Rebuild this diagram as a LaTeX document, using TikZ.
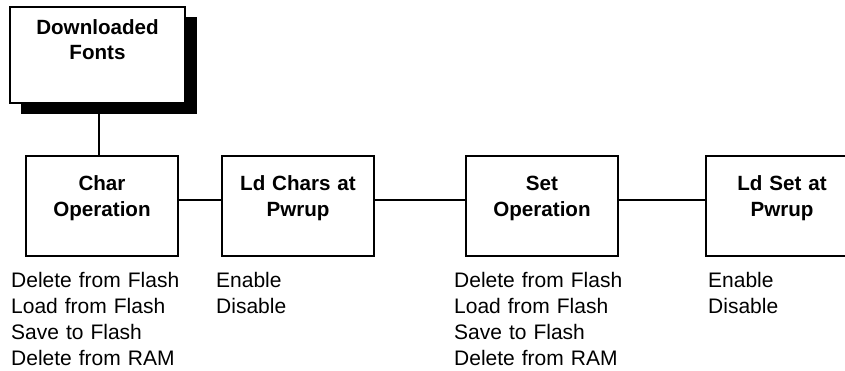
\documentclass[tikz,border=0pt]{standalone}
\usepackage{fontspec}
\setmainfont{Liberation Sans}
\begin{document}
\begin{tikzpicture}[x=1pt,y=-1pt,
  menubox/.style={draw=black,line width=1.8pt,fill=white,minimum width=152pt,minimum height=100pt,inner sep=0pt,outer sep=0pt},
  title/.style={text width=152pt,align=center,inner sep=0pt,anchor=base,font=\fontsize{20.6}{26}\selectfont\bfseries},
  choices/.style={text width=200pt,align=left,inner sep=0pt,anchor=base west,font=\fontsize{21}{26}\selectfont},
  wire/.style={draw=black,line width=1.8pt}]
\useasboundingbox (0,0) rectangle (845,371);
\clip (0,0) rectangle (845,371);
% top box with shadow
\node[fill=black,minimum width=176pt,minimum height=97pt,inner sep=0pt,outer sep=0pt] (shadow) at (109,65.5) {};
\node[draw=black,line width=1.2pt,fill=white,minimum width=175pt,minimum height=96pt,inner sep=0pt,outer sep=0pt] (top) at (97.5,55) {};
\node[title,font=\fontsize{20.6}{25}\selectfont\bfseries,text width=175pt] (toptxt) at (97.5,35) {Downloaded\\Fonts};
% boxes
\node[menubox] (chr) at (102,206) {};
\node[menubox] (ldc) at (298,206) {};
\node[menubox] (set) at (542,206) {};
\node[menubox] (lds) at (782,206) {};
% connectors
\draw[wire] ([xshift=1.5pt]shadow.south -| top.south) -- ([xshift=1.5pt]top.south |- chr.north);
\draw[wire] ([yshift=6pt]chr.east) -- ([yshift=6pt]ldc.west);
\draw[wire] ([yshift=6pt]ldc.east) -- ([yshift=6pt]set.west);
\draw[wire] ([yshift=6pt]set.east) -- ([yshift=6pt]lds.west);
% titles
\node[title] (chrt) at (102,191) {Char\\Operation};
\node[title] (ldct) at (298,191) {Ld Chars at\\Pwrup};
\node[title] (sett) at (542,191) {Set\\Operation};
\node[title] (ldst) at (782,191) {Ld Set at\\Pwrup};
% choices
\node[choices] (chrl) at (11,287.3) {Delete from Flash\\Load from Flash\\Save to Flash\\Delete from RAM};
\node[choices] (ldcl) at (216,287.3) {Enable\\Disable};
\node[choices] (setl) at (454,287.3) {Delete from Flash\\Load from Flash\\Save to Flash\\Delete from RAM};
\node[choices] (ldsl) at (708,287.3) {Enable\\Disable};
\end{tikzpicture}
\end{document}
